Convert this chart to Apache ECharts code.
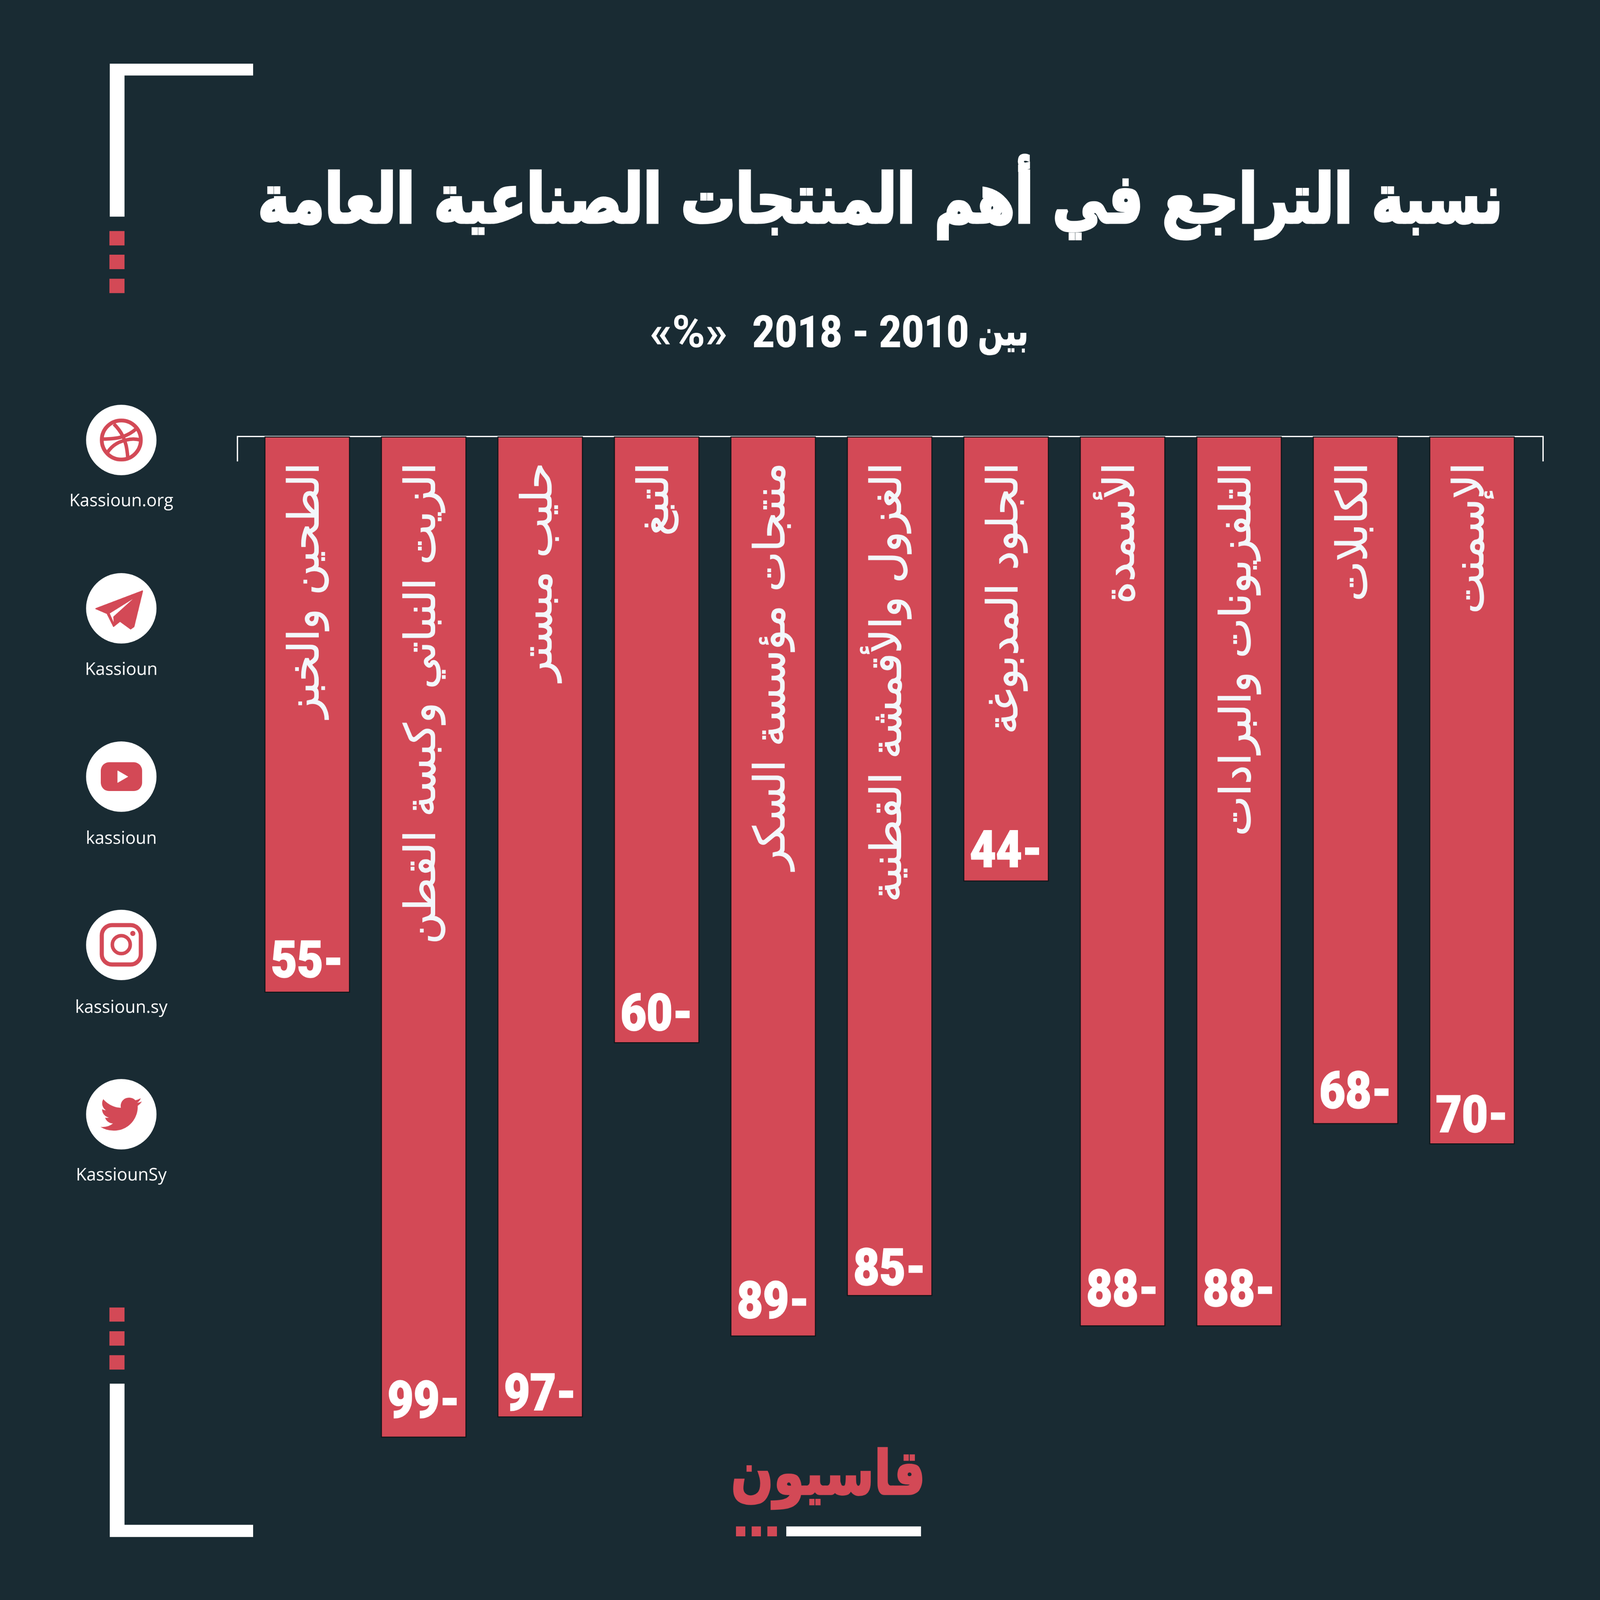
<!DOCTYPE html>
<html><head><meta charset="utf-8">
<style>html,body{margin:0;padding:0;background:#192B33;overflow:hidden}#c{width:5000px;height:5000px;transform-origin:0 0}</style>
<script src="https://cdn.jsdelivr.net/npm/echarts@6/dist/echarts.min.js"></script>
</head><body><div id="c"></div>
<script>
const categories = ['الطحين والخبز','الزيت النباتي وكبسة القطن','حليب مبستر','التبغ','منتجات مؤسسة السكر','الغزول والأقمشة القطنية','الجلود المدبوغة','الأسمدة','التلفزيونات والبرادات','الكابلات','الإسمنت'];
const values = [-55,-99,-97,-60,-89,-85,-44,-88,-88,-68,-70];
const titleText = 'نسبة التراجع في أهم المنتجات الصناعية العامة';
const subtitleWord = 'بين';
const subtitleYears = '2018 - 2010';
const subtitleUnit = '«%»';
const brandText = 'قاسيون';
const socialNames = ['Kassioun.org','Kassioun','kassioun','kassioun.sy','KassiounSy'];

// layout, kept apart from the data
const socialY = [1375,1901,2427,2953,3482];
const socialBase = [1579,2106,2634,3162,3686];
const valueLabelGap = [51,66,26,43,61,37,48,66,66,53,41];

// the drawing is laid out on 5000 units and fitted to the real window
const host=document.getElementById('c');
host.style.transform='scale('+(Math.min(window.innerWidth,window.innerHeight)/5000)+')';

const RED='#D34956', BG='#192B33', WHITE='#FFFFFF', LABEL='#F3F7FB';
const DEJAVU='"DejaVu Sans"', ROBOTO='Roboto,sans-serif', OPEN='"Open Sans",sans-serif';
const baselineShift=f=>f===DEJAVU?.8:.735;
const rect=(x,y,w,h,fill)=>({type:'rect',shape:{x,y,width:w,height:h},style:{fill},silent:true});
// y is the wanted baseline; the text element itself is anchored at its top edge
const text=(x,y,t,size,weight,family,fill,align,extra,styleExtra)=>Object.assign({type:'text',x,y:y-baselineShift(family)*size,silent:true,style:Object.assign({text:t,fontSize:size,fontWeight:weight,fontFamily:family,fill,align:align||'center',verticalAlign:'top'},styleExtra||{})},extra||{});

echarts.graphic.registerShape('birdIcon',echarts.graphic.extendPath('M23.953 4.57 a10 10 0 0 1 -2.825 .775 a4.958 4.958 0 0 0 2.163 -2.723 c-.951 .555 -2.005 .959 -3.127 1.184 a4.92 4.92 0 0 0 -8.384 4.482 C7.69 8.095 4.067 6.13 1.64 3.162 a4.822 4.822 0 0 0 -.666 2.475 c0 1.71 .87 3.213 2.188 4.096 a4.904 4.904 0 0 1 -2.228 -.616 v.06 a4.923 4.923 0 0 0 3.946 4.827 a4.996 4.996 0 0 1 -2.212 .085 a4.936 4.936 0 0 0 4.604 3.417 a9.867 9.867 0 0 1 -6.102 2.105 c-.39 0 -.779 -.023 -1.17 -.067 a13.995 13.995 0 0 0 7.557 2.209 c9.053 0 13.998 -7.496 13.998 -13.985 c0 -.21 0 -.42 -.015 -.63 A9.935 9.935 0 0 0 24 4.59 z',{}));
echarts.graphic.registerShape('ballLineA',echarts.graphic.extendPath('M-23 -50 C-5 -32 17 -5 20 54',{}));
echarts.graphic.registerShape('ballLineB',echarts.graphic.extendPath('M-58 -3 C-10 -3 20 -10 50 -38',{}));
echarts.graphic.registerShape('ballLineC',echarts.graphic.extendPath('M-44 40 C-25 10 0 4 15 0 C30 -4 45 -4 60 0',{}));

const stroke={fill:'none',stroke:RED,lineWidth:11};
const icons=[
 {type:'group',children:[
  {type:'circle',shape:{cx:0,cy:0,r:61},style:{fill:'none',stroke:RED,lineWidth:12}},
  {type:'ballLineA',style:stroke},{type:'ballLineB',style:stroke},{type:'ballLineC',style:stroke}
 ]},
 {type:'group',children:[
  {type:'polygon',shape:{points:[[66,-54],[-79,1],[-44,16],[-24,56],[-4,40],[29,64],[39,57]]},style:{fill:RED,stroke:RED,lineWidth:4,lineJoin:'round'}},
  {type:'polygon',shape:{points:[[36,-29],[-36,16],[-24,43],[-25,26]]},style:{fill:WHITE}}
 ]},
 {type:'group',children:[
  {type:'rect',shape:{x:-64,y:-45,width:129,height:90,r:26},style:{fill:RED}},
  {type:'polygon',shape:{points:[[-11,-18],[20,0],[-11,18]]},style:{fill:WHITE,stroke:WHITE,lineWidth:2,lineJoin:'round'}}
 ]},
 {type:'group',children:[
  {type:'rect',shape:{x:-61,y:-62,width:122,height:123,r:32},style:{fill:'none',stroke:RED,lineWidth:13}},
  {type:'circle',shape:{cx:0,cy:-1,r:28},style:{fill:'none',stroke:RED,lineWidth:11}},
  {type:'circle',shape:{cx:36,cy:-36,r:8},style:{fill:RED}}
 ]},
 {type:'group',children:[
  {type:'birdIcon',x:-65,y:-64,scaleX:5.4,scaleY:5.3,style:{fill:RED}}
 ]}
];

const graphics=[
 rect(343,199,448,37,WHITE), rect(343,199,46,478,WHITE),
 rect(342,722,47,45,RED), rect(342,796,47,45,RED), rect(342,871,47,45,RED),
 rect(342,4086,47,44,RED), rect(342,4160,47,45,RED), rect(342,4235,47,45,RED),
 rect(343,4324,46,479,WHITE), rect(343,4765,448,38,WHITE),
 {type:'polyline',shape:{points:[[742,1442],[742,1364],[4822,1364],[4822,1442]]},style:{fill:'none',stroke:WHITE,lineWidth:4},z:0,silent:true},
 text(2751,704,titleText,212,700,DEJAVU,WHITE,'center',{scaleX:.803},{stroke:WHITE,lineWidth:9}),
 text(3028,1083,subtitleYears,140,900,ROBOTO,WHITE,'right',{scaleX:.866}),
 text(3135,1083,subtitleWord,125,700,DEJAVU,WHITE,'center',{scaleX:.75},{stroke:WHITE,lineWidth:3}),
 text(2152,1083,subtitleUnit,140,700,ROBOTO,WHITE,'center'),
 text(2588,4677,brandText,190,700,DEJAVU,RED,'center',{scaleX:.82},{stroke:RED,lineWidth:6}),
 rect(2300,4770,29,31,RED), rect(2349,4770,29,31,RED), rect(2398,4770,30,31,RED), rect(2457,4770,421,31,WHITE)
];
socialNames.forEach((n,i)=>{
 graphics.push({type:'circle',silent:true,shape:{cx:379,cy:socialY[i],r:110},style:{fill:WHITE}});
 graphics.push(Object.assign({x:379,y:socialY[i],silent:true},icons[i]));
 graphics.push(text(379,socialBase[i],n,54,400,OPEN,WHITE,'center'));
});

const chart=echarts.init(host,null,{renderer:'canvas',width:5000,height:5000});
chart.setOption({
 animation:false,
 backgroundColor:BG,
 grid:{left:778,right:218,top:1364,height:3160,containLabel:false},
 xAxis:{type:'category',data:categories,position:'top',z:10,
  axisLine:{show:false},axisTick:{show:false},
  axisLabel:{interval:0,inside:true,rotate:90,margin:82,align:'right',verticalAlign:'middle',color:LABEL,fontSize:133,fontFamily:DEJAVU,textBorderColor:LABEL,textBorderWidth:2}},
 yAxis:{type:'value',min:-100,max:0,show:false},
 series:[
  {type:'bar',data:values,barWidth:267,itemStyle:{color:RED,borderColor:'#0E1418',borderWidth:3}},
  {type:'custom',z:5,silent:true,data:values.map((v,i)=>[i,v]),encode:{x:0,y:1},
   renderItem:(params,api)=>{
    const p=api.coord([api.value(0),api.value(1)]);
    return {type:'text',x:p[0],y:p[1]-valueLabelGap[params.dataIndex]-baselineShift(ROBOTO)*160,scaleX:.88,
     style:{text:Math.abs(api.value(1))+'-',fill:WHITE,stroke:WHITE,lineWidth:3,fontSize:160,fontWeight:900,fontFamily:ROBOTO,align:'center',verticalAlign:'top'}};
   }}
 ],
 graphic:{elements:graphics}
});
</script></body></html>
